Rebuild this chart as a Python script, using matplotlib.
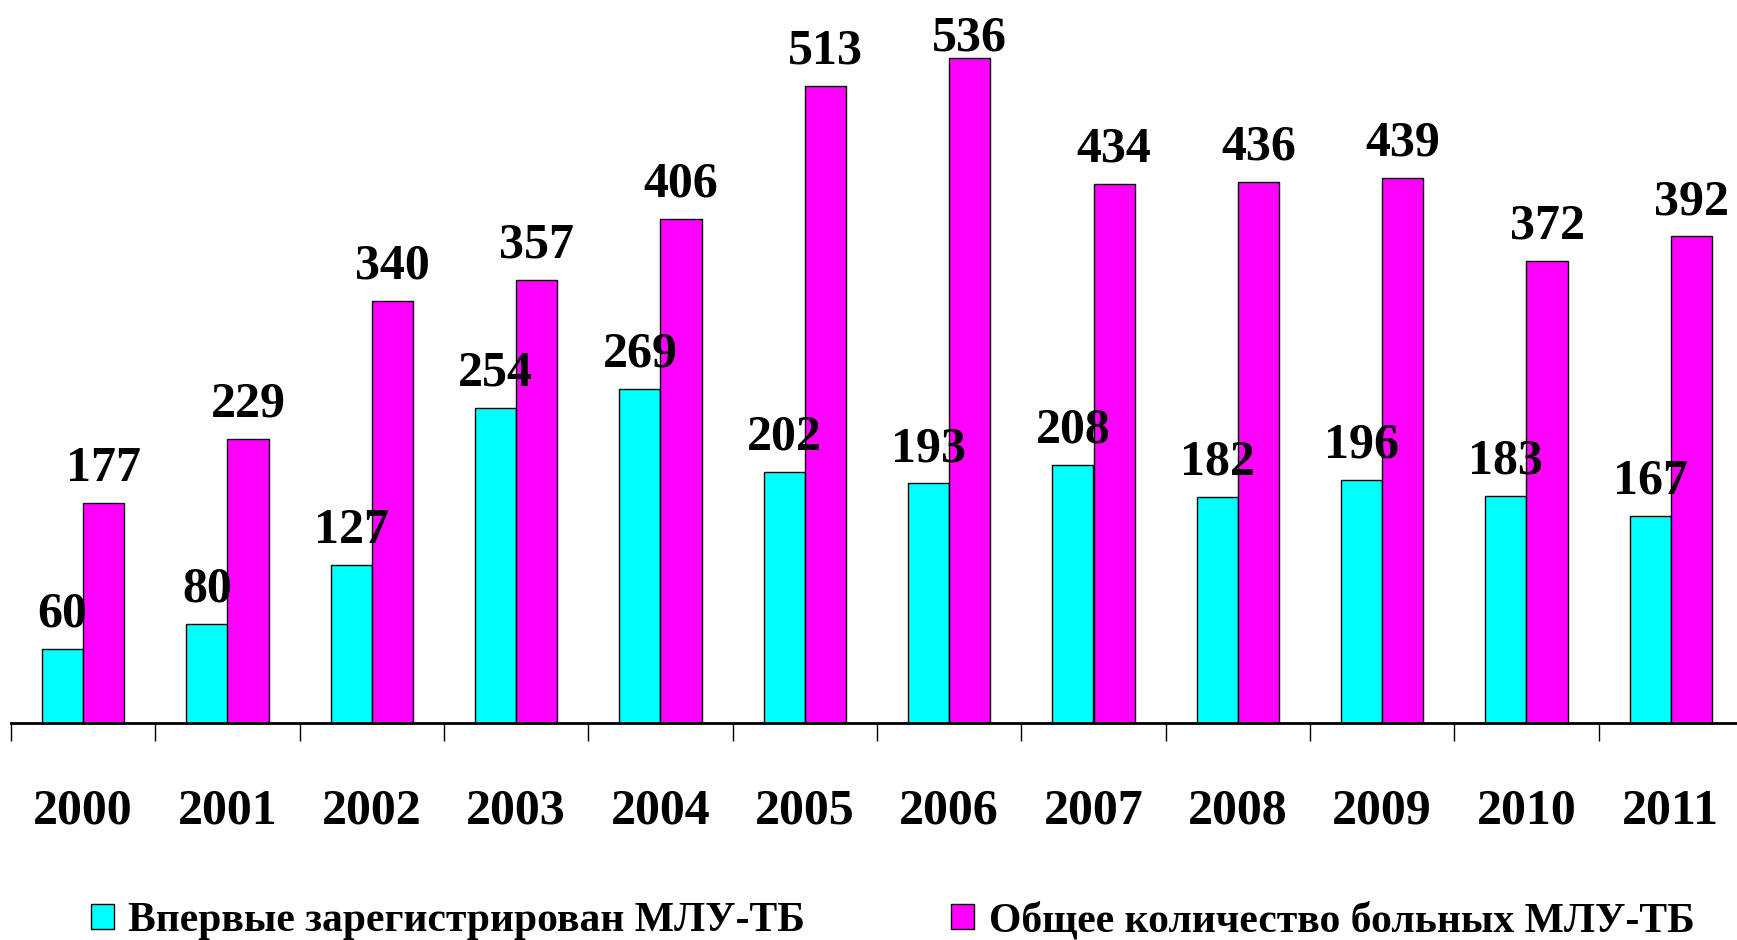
import numpy as np
import matplotlib
matplotlib.use("Agg")
import matplotlib.pyplot as plt

plt.rcParams['font.family'] = ['Liberation Serif', 'DejaVu Serif']
plt.rcParams['font.weight'] = 'bold'

years = ['2000', '2001', '2002', '2003', '2004', '2005',
         '2006', '2007', '2008', '2009', '2010', '2011']
new_cases = [60, 80, 127, 254, 269, 202, 193, 208, 182, 196, 183, 167]
total_cases = [177, 229, 340, 357, 406, 513, 536, 434, 436, 439, 372, 392]
series_names = ['Впервые зарегистрирован МЛУ-ТБ', 'Общее количество больных МЛУ-ТБ']

fig = plt.figure(figsize=(17.37, 9.40), dpi=100)
ax = fig.add_axes([11 / 1737, 217 / 940, 1732 / 1737, 710 / 940])

x = np.arange(len(years))
w = 0.285
b1 = ax.bar(x - w / 2, new_cases, w, color='#00FFFF', edgecolor='black', linewidth=1,
            label=series_names[0])
b2 = ax.bar(x + w / 2, total_cases, w, color='#FF00FF', edgecolor='black', linewidth=1,
            label=series_names[1])

ymax = 572
ax.set_xlim(-0.5, len(years) - 0.5)
ax.set_ylim(0, ymax)

# подписи значений над столбиками (не выходят за верх области построения)
for xs, vals in ((x - w / 2, new_cases), (x + w / 2, total_cases)):
    for xi, v in zip(xs, vals):
        y = min(v + 18, ymax - 30)
        ax.text(xi, y, str(v), ha='center', va='baseline', fontsize=36,
                fontweight='bold')

for s in ('top', 'right', 'left'):
    ax.spines[s].set_visible(False)
ax.spines['bottom'].set_linewidth(2)
ax.set_yticks([])

ax.set_xticks(x)
ax.set_xticklabels(years, fontsize=36, fontweight='bold')
ax.tick_params(axis='x', which='major', length=0, pad=47)
ax.set_xticks(np.arange(len(years) + 1) - 0.5, minor=True)
ax.tick_params(axis='x', which='minor', length=13, width=1, direction='out')

fig.legend(handles=[b1, b2], loc='center left', bbox_to_anchor=(91 / 1737, 1 - 921 / 940),
           ncol=2, frameon=False, prop={'weight': 'bold', 'size': 30},
           borderpad=0, borderaxespad=0,
           handlelength=0.55, handleheight=0.55, handletextpad=0.35, columnspacing=3.5)

fig.savefig('out.png', dpi=100)
